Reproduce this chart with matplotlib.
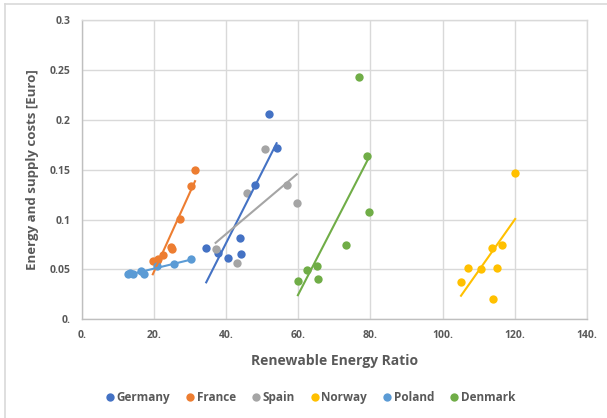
import numpy as np
import matplotlib

matplotlib.use("Agg")
import matplotlib.pyplot as plt
from matplotlib.lines import Line2D

plt.rcParams["font.family"] = ["Open Sans", "DejaVu Sans"]

TEXT = "#595959"
GRID = "#D9D9D9"

countries = ["Germany", "France", "Spain", "Norway", "Poland", "Denmark"]
colors = ["#4472C4", "#ED7D31", "#A5A5A5", "#FFC000", "#5B9BD5", "#70AD47"]

# renewable energy ratio (x) and energy + supply cost in euro (y) per country
germany_x = [34.5, 37.7, 40.5, 43.9, 44.2, 48.0, 51.9, 54.0]
germany_y = [0.0718, 0.066, 0.0616, 0.0818, 0.0655, 0.1343, 0.206, 0.172]
france_x = [19.7, 20.8, 21.2, 22.5, 24.8, 24.9, 27.2, 30.2, 31.4]
france_y = [0.058, 0.0588, 0.060, 0.064, 0.0728, 0.0708, 0.1005, 0.1336, 0.1497]
spain_x = [37.1, 43.0, 45.9, 50.8, 57.0, 59.6]
spain_y = [0.0708, 0.0561, 0.1266, 0.171, 0.1346, 0.1169]
norway_x = [105.1, 107.0, 110.6, 113.7, 113.9, 115.1, 116.5, 120.1]
norway_y = [0.037, 0.0514, 0.050, 0.0715, 0.0203, 0.0514, 0.0748, 0.1463]
poland_x = [12.9, 13.4, 14.3, 16.3, 17.2, 20.8, 25.7, 30.2]
poland_y = [0.0452, 0.046, 0.045, 0.0484, 0.0452, 0.053, 0.0554, 0.060]
denmark_x = [59.9, 62.4, 65.3, 65.4, 73.2, 76.8, 79.0, 79.7]
denmark_y = [0.0387, 0.0498, 0.0534, 0.0404, 0.0745, 0.243, 0.164, 0.108]

series_x = [germany_x, france_x, spain_x, norway_x, poland_x, denmark_x]
series_y = [germany_y, france_y, spain_y, norway_y, poland_y, denmark_y]

x_ticks = [0, 20, 40, 60, 80, 100, 120, 140]
x_labels = ["0.", "20.", "40.", "60.", "80.", "100.", "120.", "140."]
y_ticks = [0, 0.05, 0.1, 0.15, 0.2, 0.25, 0.3]
y_labels = ["0.", "0.05", "0.1", "0.15", "0.2", "0.25", "0.3"]

fig = plt.figure(figsize=(6.07, 4.18), dpi=100)
ax = fig.add_axes([0.1346, 0.2361, 0.8324, 0.7161])

for name, c, xs, ys in zip(countries, colors, series_x, series_y):
    xs = np.asarray(xs)
    ys = np.asarray(ys)
    ax.plot(xs, ys, "o", color=c, ms=6, mec="none", zorder=3, label=name)
    # linear trendline over the country's data range
    k, b = np.polyfit(xs, ys, 1)
    tx = np.array([xs.min(), xs.max()])
    ax.plot(tx, k * tx + b, color=c, lw=1.5, zorder=4)

ax.set_xlim(0, 140)
ax.set_ylim(0, 0.3)
ax.set_xticks(x_ticks)
ax.set_xticklabels(x_labels)
ax.set_yticks(y_ticks)
ax.set_yticklabels(y_labels)
ax.tick_params(length=0, labelsize=7.5, labelcolor=TEXT, pad=8)
for lab in ax.get_xticklabels() + ax.get_yticklabels():
    lab.set_fontweight("bold")
ax.grid(True, color=GRID, lw=1)
ax.set_axisbelow(True)
for s in ax.spines.values():
    s.set_color(GRID)
    s.set_linewidth(1)
ax.spines["left"].set_color("#BFBFBF")
ax.spines["bottom"].set_color("#BFBFBF")

ax.set_xlabel("Renewable Energy Ratio", fontsize=10, color=TEXT,
              fontweight="bold", labelpad=9)
ax.set_ylabel("Energy and supply costs [Euro]", fontsize=9.5, color=TEXT,
              fontweight="bold", labelpad=8)

handles = [Line2D([], [], ls="none", marker="o", ms=6, mec="none", color=c)
           for c in colors]
leg = fig.legend(handles, countries, loc="center", bbox_to_anchor=(0.51, 0.048),
                 ncol=6, frameon=False, fontsize=8.5, handletextpad=0.05,
                 columnspacing=1.2, handlelength=1.0)
for t in leg.get_texts():
    t.set_color(TEXT)
    t.set_fontweight("bold")

# outer chart frame (left and top edges)
fig.add_artist(Line2D([0.0075, 0.0075], [0, 0.99], transform=fig.transFigure,
                      color="#D9D9D9", lw=1.2))
fig.add_artist(Line2D([0.0075, 1], [0.99, 0.99], transform=fig.transFigure,
                      color="#D9D9D9", lw=1.2))

fig.savefig("out.png", dpi=100)
